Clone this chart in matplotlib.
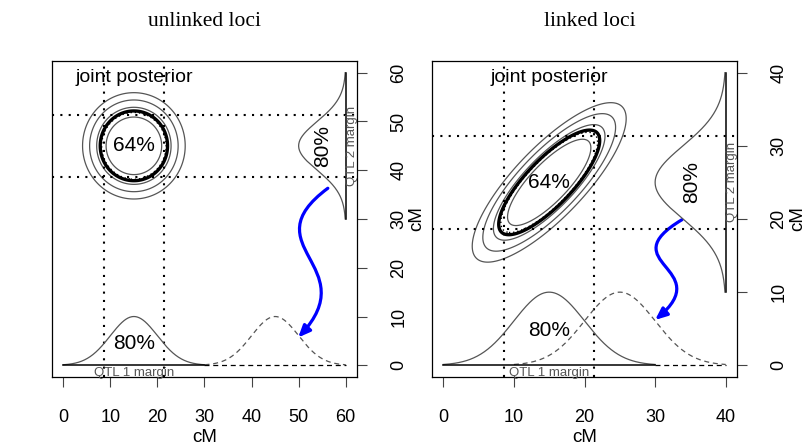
import numpy as np
import matplotlib.pyplot as plt
from matplotlib.path import Path
from matplotlib.patches import FancyArrowPatch

plt.rcParams['font.family'] = 'Liberation Sans'

# two panels: unlinked / linked QTL pair
panel_titles = ['unlinked loci', 'linked loci']
chrom_len = [60, 40]
qtl1_mean = [15, 15]
qtl2_mean = [45, 25]
qtl1_shifted = [45, 25]      # dashed QTL 1 margin
qtl_sd = 5.0
rho = [0.0, 0.8]
bump_height = 10.0
axis_ticks = [[0, 10, 20, 30, 40, 50, 60], [0, 10, 20, 30, 40]]

# contour radii (in sd units); the thick one is the 64% region
contour_levels = [1.18, 1.58, 1.88, 2.18]
level_64 = 1.43
z80 = 1.2816

# blue arrow (cubic bezier: start, two controls, end)
arrow_pts = [
    [(56.2, 36.3), (39.6, 24.4), (64.1, 20.4), (49.9, 5.7)],
    [(33.8, 19.9), (23.6, 14.0), (38.8, 13.3), (30.0, 6.2)],
]

curve_col = '#555555'

fig = plt.figure(figsize=(8.07, 4.47), dpi=100)
ax_pos = [[0.0644, 0.1566, 0.378, 0.707], [0.5353, 0.1566, 0.378, 0.707]]


def bump(m, lo, hi):
    t = np.linspace(lo, hi, 300)
    return t, bump_height * np.exp(-0.5 * ((t - m) / qtl_sd) ** 2)


for i in range(2):
    ax = fig.add_axes(ax_pos[i])
    L = chrom_len[i]
    m1, m2 = qtl1_mean[i], qtl2_mean[i]
    pad = 0.04 * L
    ax.set_xlim(-pad, L + pad)
    ax.set_ylim(-pad, L + pad)

    # joint posterior contours
    g = np.linspace(-pad, L + pad, 400)
    X, Y = np.meshgrid(g, g)
    dx, dy = (X - m1) / qtl_sd, (Y - m2) / qtl_sd
    r = rho[i]
    D = np.sqrt((dx ** 2 - 2 * r * dx * dy + dy ** 2) / (1 - r ** 2))
    ax.contour(X, Y, D, levels=contour_levels, colors=curve_col, linewidths=0.9)
    ax.contour(X, Y, D, levels=[level_64], colors='black', linewidths=2.4)
    ax.contour(X, Y, D, levels=[level_64 - 0.06], colors='black',
               linewidths=1.0, linestyles=[(0, (1, 2))])
    ax.text(m1, m2, '64%', ha='center', va='center', fontsize=15)

    # 80% intervals
    dots = (0, (1, 3))
    for v in (m1 - z80 * qtl_sd, m1 + z80 * qtl_sd):
        ax.axvline(v, color='black', lw=1.5, ls=dots)
    for v in (m2 - z80 * qtl_sd, m2 + z80 * qtl_sd):
        ax.axhline(v, color='black', lw=1.5, ls=dots)

    # QTL 1 margin along the bottom
    t, h = bump(m1, m1 - 15, m1 + 15)
    ax.plot(t, h, color=curve_col, lw=0.9)
    t, h = bump(qtl1_shifted[i], qtl1_shifted[i] - 15, qtl1_shifted[i] + 15)
    ax.plot(t, h, color=curve_col, lw=0.9, ls=(0, (4, 3)))
    ax.plot([0, 30], [0, 0], color='black', lw=1.1)
    ax.plot([30, L], [0, 0], color='black', lw=0.9, ls=(0, (4, 3)))
    ax.text(m1, 4.5 * L / 60 if i == 0 else 4.8, '80%', ha='center', va='center', fontsize=15)
    ax.text(m1, -0.025 * L, 'QTL 1 margin', ha='center', va='center',
            fontsize=9.5, color='#555555')

    # QTL 2 margin on the right edge
    t, h = bump(m2, m2 - 15, m2 + 15)
    ax.plot(L - h, t, color=curve_col, lw=0.9)
    ax.plot([L, L], [m2 - 15, m2 + 15], color='black', lw=1.1)
    ax.text(L - 0.08 * L if i == 0 else L - 4.8, m2, '80%', ha='center', va='center',
            fontsize=15, rotation=90)
    ax.text(L + 0.022 * L, m2, 'QTL 2 margin', ha='center', va='center',
            fontsize=9.5, color='#555555', rotation=90)

    ax.text(m1, L - 0.017 * L, 'joint posterior', ha='center', va='center', fontsize=14)

    # blue arrow
    codes = [Path.MOVETO, Path.CURVE4, Path.CURVE4, Path.CURVE4]
    arr = FancyArrowPatch(path=Path(arrow_pts[i], codes),
                          arrowstyle='-|>,head_length=7,head_width=3',
                          color='blue', lw=2.3)
    ax.add_patch(arr)

    ax.set_xticks(axis_ticks[i])
    ax.set_yticks(axis_ticks[i])
    ax.yaxis.tick_right()
    ax.yaxis.set_label_position('right')
    ax.tick_params(axis='both', direction='out', length=7, width=0.8,
                   color='#444444', labelsize=13)
    ax.tick_params(axis='x', pad=16)
    ax.tick_params(axis='y', pad=17, labelrotation=90)
    for lab in ax.get_yticklabels():
        lab.set_va('center')
    ax.set_xlabel('cM', fontsize=13.5, labelpad=2)
    ax.set_ylabel('cM', fontsize=13.5, labelpad=1, rotation=90)
    for s in ax.spines.values():
        s.set_linewidth(0.9)

    fig.text(ax_pos[i][0] + ax_pos[i][2] / 2 + (0.007 if i else 0), 1 - 22 / 447,
             panel_titles[i], ha='center', va='center', fontsize=15.5,
             family='Liberation Serif')

fig.savefig('out.png', dpi=100)
